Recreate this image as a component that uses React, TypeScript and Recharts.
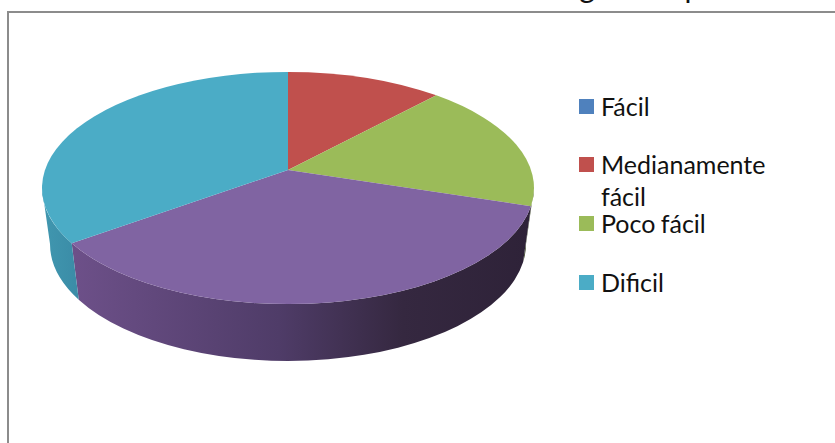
import React from "react";
import { Pie, PieChart } from "recharts";

const CATEGORIES = ["Fácil", "Medianamente fácil", "Poco fácil", "Otro", "Dificil"];
const VALUES = [0, 10.3, 17.2, 39.6, 32.9];
const COLORS = ["#4f81bd", "#c0504d", "#9bbb59", "#8064a2", "#4bacc6"];
// the purple slice has no entry in the legend of the original
const LEGEND_ITEMS = ["Fácil", "Medianamente fácil", "Poco fácil", "Dificil"];
const LEGEND_COLORS = ["#4f81bd", "#c0504d", "#9bbb59", "#4bacc6"];
const LEGEND_TOPS = [90, 148, 207, 266];

const tableData = CATEGORIES.map((name, i) => ({ name, value: VALUES[i], fill: COLORS[i] }));

// fake 3D tilt: the rim is an ellipse, its centre sits below the apex of the slices
const SQUASH = 0.472;
const RIM_DROP = 18;
const BOTTOM = { rx: 238, ry: 117, drop: 74 };

const rad = (deg: number) => (deg * Math.PI) / 180;

function rimPoint(cx: number, cy: number, rx: number, ry: number, a: number) {
  return [cx + rx * Math.cos(rad(a)), cy - ry * Math.sin(rad(a))];
}

function arcPath(cx: number, cy: number, rx: number, ry: number, a0: number, a1: number, first: string) {
  const [x0, y0] = rimPoint(cx, cy, rx, ry, a0);
  const [x1, y1] = rimPoint(cx, cy, rx, ry, a1);
  const large = Math.abs(a1 - a0) > 180 ? 1 : 0;
  const sweep = a1 < a0 ? 1 : 0;
  return `${first} ${x0} ${y0} A ${rx} ${ry} 0 ${large} ${sweep} ${x1} ${y1}`;
}

function Slice3D(props: any) {
  const { cx, cy, outerRadius, startAngle, endAngle, fill, index } = props;
  if (startAngle === endAngle) return <g />;
  const ry = outerRadius * SQUASH;
  const topCy = cy + RIM_DROP;
  const top = arcPath(cx, topCy, outerRadius, ry, startAngle, endAngle, `M ${cx} ${cy} L`) + " Z";
  // only the part of the wall facing us, between 0 and -180 degrees
  const from = Math.min(startAngle, 0);
  const to = Math.max(endAngle, -180);
  let wall = null;
  if (from > to) {
    const upper = arcPath(cx, topCy, outerRadius, ry, from, to, "M");
    const lower = arcPath(cx, cy + BOTTOM.drop, BOTTOM.rx, BOTTOM.ry, to, from, "L");
    wall = <path d={`${upper} ${lower} Z`} fill={`url(#wall${index})`} stroke="none" />;
  }
  return (
    <g>
      {wall}
      <path d={top} fill={fill} stroke="none" />
    </g>
  );
}

function LegendBox() {
  return (
    <div style={{ position: "absolute", left: 0, top: 0 }}>
      {LEGEND_ITEMS.map((name, i) => (
        <div key={name} style={{ position: "absolute", left: 579, top: LEGEND_TOPS[i], display: "flex", alignItems: "flex-start" }}>
          <span style={{ width: 15, height: 15, background: LEGEND_COLORS[i], marginTop: 9, marginRight: 7, flex: "none" }} />
          <span style={{ width: 180, fontFamily: "Lato", fontSize: 25, lineHeight: "32px", wordSpacing: -1, color: "#111" }}>{name}</span>
        </div>
      ))}
    </div>
  );
}

export default function App() {
  return (
    <div style={{ position: "absolute", left: 0, top: 0, width: 835, height: 443, background: "#fff", overflow: "hidden" }}>
      <div
        style={{
          position: "absolute",
          left: 296,
          top: -32,
          fontFamily: "Lato",
          fontSize: 30,
          lineHeight: "36px",
          wordSpacing: 3,
          color: "#111",
          whiteSpace: "nowrap",
        }}
      >
        Nivel de dificultad según las pruebas
      </div>
      <div
        style={{
          position: "absolute",
          left: 7,
          top: 11,
          width: 840,
          height: 450,
          border: "2px solid #8c8c8c",
          boxSizing: "border-box",
        }}
      />
      <PieChart width={835} height={443} margin={{ top: 0, right: 0, bottom: 0, left: 0 }} style={{ position: "absolute", left: 0, top: 0 }}>
        <defs>
          <linearGradient id="wall2" gradientUnits="userSpaceOnUse" x1="40" y1="0" x2="535" y2="0">
            <stop offset="0%" stopColor="#4f6a2e" />
            <stop offset="100%" stopColor="#3a4524" />
          </linearGradient>
          <linearGradient id="wall3" gradientUnits="userSpaceOnUse" x1="72" y1="0" x2="531" y2="0">
            <stop offset="0%" stopColor="#6d5089" />
            <stop offset="45%" stopColor="#4f3c68" />
            <stop offset="72%" stopColor="#352840" />
            <stop offset="100%" stopColor="#2e2238" />
          </linearGradient>
          <linearGradient id="wall4" gradientUnits="userSpaceOnUse" x1="40" y1="0" x2="80" y2="0">
            <stop offset="0%" stopColor="#4198b0" />
            <stop offset="100%" stopColor="#3a8ba6" />
          </linearGradient>
        </defs>
        <Pie
          data={tableData}
          dataKey="value"
          nameKey="name"
          cx={288}
          cy={170}
          outerRadius={246}
          startAngle={90}
          endAngle={-270}
          stroke="none"
          shape={Slice3D}
          isAnimationActive={false}
        />
      </PieChart>
      <LegendBox />
    </div>
  );
}
